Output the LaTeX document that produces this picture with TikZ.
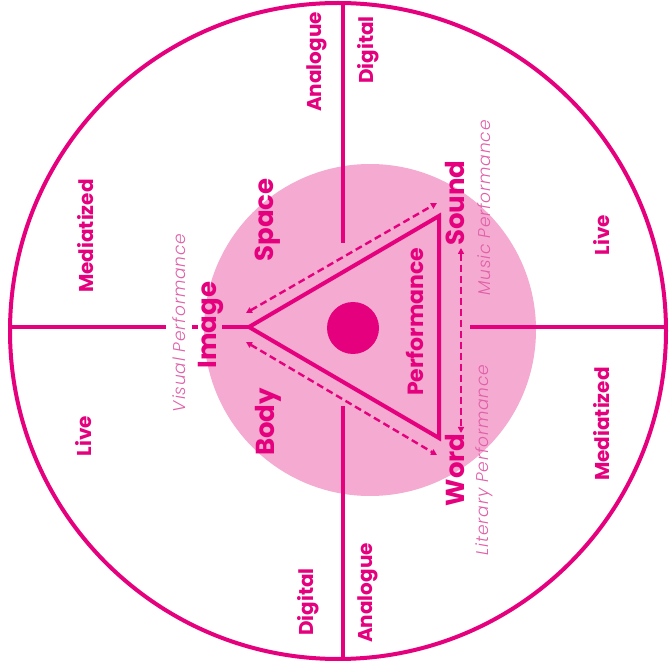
\documentclass[tikz,border=0pt]{standalone}
\usepackage{fontspec}
\setmainfont{Poppins}
\newfontfamily\genrefont{Poppins Light}[LetterSpace=5]
\usetikzlibrary{arrows.meta}
\definecolor{magline}{HTML}{E5007E}
\definecolor{pinkfill}{HTML}{F5AAD1}
\definecolor{softmag}{HTML}{E060A8}
\tikzset{
  lbl/.style={rotate=90,text=magline,inner sep=0pt,font=\bfseries\fontsize{20}{20}\selectfont},
  biglbl/.style={lbl,font=\bfseries\fontsize{26}{26}\selectfont},
  genre/.style={rotate=90,text=softmag,inner sep=0pt,font=\genrefont\itshape\fontsize{17}{17}\selectfont},
  axis/.style={magline,line width=3.5pt},
  link/.style={magline,line width=2.4pt,dash pattern=on 7pt off 4pt,{Triangle[length=6pt,width=6pt]}-{Triangle[length=6pt,width=6pt]}}
}
\begin{document}
\begin{tikzpicture}[x=1pt,y=-1pt]
\useasboundingbox (0,0) rectangle (670,668);
\fill[pinkfill] (370,330) circle (166);
\draw[magline,line width=4pt] (338,331) circle (328);
\coordinate (img) at (249,327); \coordinate (snd) at (439,216); \coordinate (wrd) at (439,438);
\draw[axis] (343,3) -- (343,243); \draw[axis] (343,406) -- (343,660);
\draw[axis] (10,327) -- (166,327) (192,327) -- (198,327) (222,327) -- (img);
\draw[axis] (470,327) -- (666,327);
\draw[magline,line width=4pt] (img) -- (snd) -- (wrd) -- cycle;
\fill[magline] (353,328) circle (26);
\coordinate (a1) at (246,313); \coordinate (a2) at (437,203);
\coordinate (b1) at (246,342); \coordinate (b2) at (437,455);
\coordinate (c1) at (461,248); \coordinate (c2) at (461,433);
\draw[link] (a1) -- (a2); \draw[link] (b1) -- (b2); \draw[link] (c1) -- (c2);
\node[biglbl] (image) at (211,325) {Image};
\node[biglbl] (space) at (268,220) {Space};
\node[biglbl] (body) at (268,422) {Body};
\node[biglbl] (sound) at (455,203) {Sound};
\node[biglbl] (word) at (455,470) {Word};
\node[lbl,font=\bfseries\fontsize{22}{22}\selectfont] (perf) at (415,322) {Performance};
\node[genre] (visual) at (179,323) {Visual Performance};
\node[genre] (music) at (484,208) {Music Performance};
\node[genre] (literary) at (484,460) {Literary Performance};
\foreach \x/\y/\t/\n in {86/236/Mediatized/medl,84/436/Live/livel,602/235/Live/liver,602/424/Mediatized/medr,
  317/62/Analogue/anat,368/50/Digital/digt,308/602/Digital/digb,368/593/Analogue/anab}
  {\node[lbl] (\n) at (\x,\y) {\t};}
\end{tikzpicture}
\end{document}
